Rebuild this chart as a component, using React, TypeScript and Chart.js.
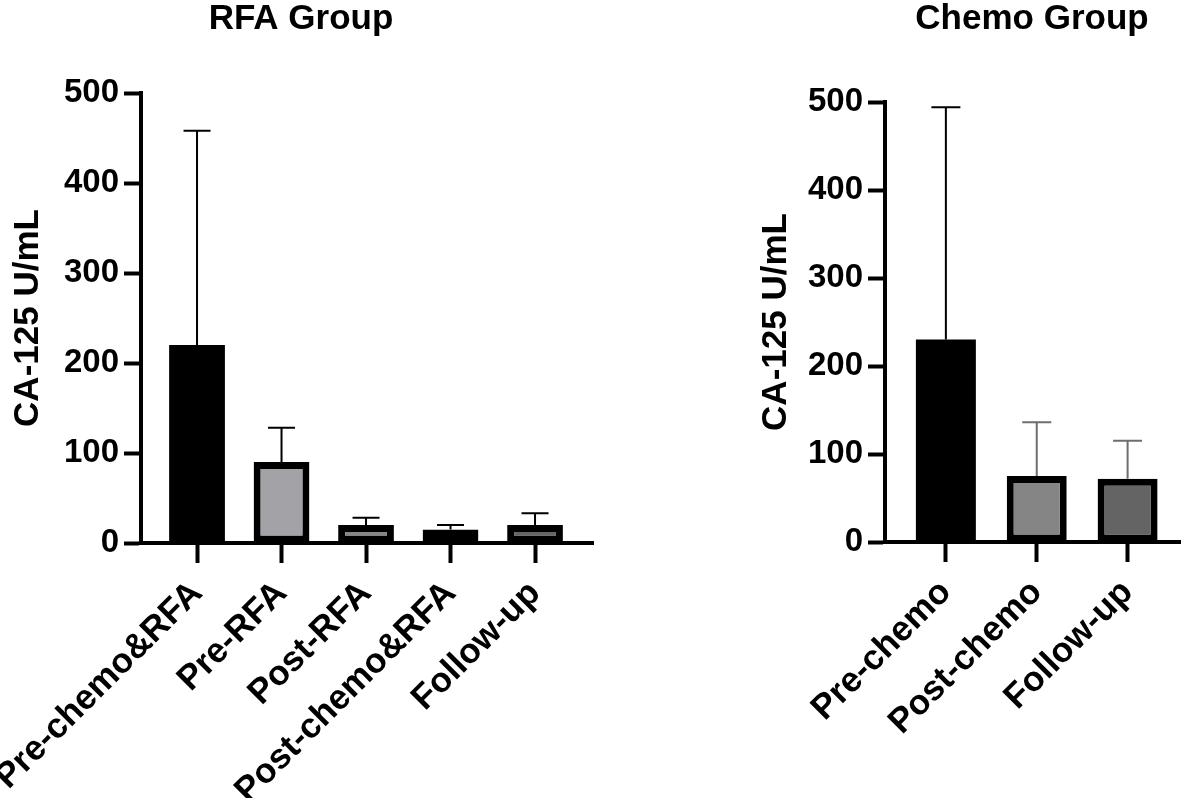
import { useEffect, useRef } from 'react';
import { Chart, registerables } from 'chart.js';

Chart.register(...registerables);

// RFA group
const rfaLabels = ['Pre-chemo&RFA', 'Pre-RFA', 'Post-RFA', 'Post-chemo&RFA', 'Follow-up'];
const rfaMeans = [220, 90, 20, 15, 20];
const rfaSD = [238, 38, 8, 5, 13];
const rfaFills = ['#000000', '#a3a3a7', '#858585', '#dedede', '#646464'];
const rfaErrColors = ['#000000', '#000000', '#000000', '#000000', '#000000'];

// Chemo group
const chemoLabels = ['Pre-chemo', 'Post-chemo', 'Follow-up'];
const chemoMeans = [230, 75, 72];
const chemoSD = [264, 61, 43];
const chemoFills = ['#000000', '#858585', '#646464'];
const chemoErrColors = ['#000000', '#6e6e6e', '#6e6e6e'];

const yMax = 500;
const yStep = 100;

const FONT = '"Liberation Sans", Arial, Helvetica, sans-serif';

function makeErrorBars(sd: number[], colors: string[], cap: number) {
  return {
    id: 'errorBars',
    afterDatasetsDraw(chart: any) {
      const { ctx } = chart;
      const y = chart.scales.y;
      const meta = chart.getDatasetMeta(0);
      const data = chart.data.datasets[0].data as any[];
      meta.data.forEach((bar: any, i: number) => {
        const top = y.getPixelForValue(data[i].y + sd[i]);
        ctx.save();
        ctx.strokeStyle = colors[i];
        ctx.lineWidth = 2;
        ctx.beginPath();
        ctx.moveTo(bar.x, bar.y);
        ctx.lineTo(bar.x, top);
        ctx.moveTo(bar.x - cap, top);
        ctx.lineTo(bar.x + cap, top);
        ctx.stroke();
        ctx.restore();
      });
    },
  };
}

type PanelProps = {
  title: string;
  labels: string[];
  means: number[];
  sd: number[];
  fills: string[];
  errColors: string[];
  width: number;
  height: number;
  padSide: number;
  yWidth: number;
  yTitlePad: number;
  xHeight: number;
  plotTop: number;
  xMin: number;
  xMax: number;
  border: number;
  cap: number;
};

function BarPanel(p: PanelProps) {
  const ref = useRef<HTMLCanvasElement>(null);

  useEffect(() => {
    const ctx = ref.current!.getContext('2d')!;
    const titleLine = 32;
    const titleTop = 3;
    const chart = new Chart(ctx, {
      type: 'bar',
      data: {
        datasets: [
          {
            data: p.means.map((v, i) => ({ x: i, y: v })),
            backgroundColor: p.fills,
            borderColor: '#000000',
            // a black bar needs no outline (avoids an anti-aliased seam)
            borderWidth: p.fills.map((c) => (c === '#000000' ? 0 : p.border)),
            borderSkipped: false,
            barPercentage: 0.66,
            categoryPercentage: 1,
          },
        ],
      },
      options: {
        responsive: false,
        animation: false,
        layout: { padding: { left: p.padSide, right: p.padSide, top: 0, bottom: 0 } },
        plugins: {
          legend: { display: false },
          tooltip: { enabled: false },
          title: {
            display: true,
            text: p.title,
            color: '#000',
            font: { family: FONT, size: 35, weight: 'bold', lineHeight: titleLine / 35 },
            padding: { top: titleTop, bottom: p.plotTop - titleLine - titleTop },
          },
        },
        scales: {
          x: {
            type: 'linear',
            offset: false,
            min: p.xMin,
            max: p.xMax,
            afterBuildTicks: (axis: any) => {
              axis.ticks = p.labels.map((_, i) => ({ value: i }));
            },
            afterFit: (axis: any) => {
              axis.height = p.xHeight;
              axis.paddingLeft = 0;
              axis.paddingRight = 0;
            },
            grid: {
              offset: false,
              drawOnChartArea: false,
              drawTicks: true,
              tickLength: 20,
              tickWidth: 4,
              tickColor: '#000',
            },
            border: { display: true, width: 4, color: '#000' },
            ticks: {
              autoSkip: false,
              minRotation: 45,
              maxRotation: 45,
              padding: 10,
              color: '#000',
              font: { family: FONT, size: 35, weight: 'bold' },
              callback: (v: any) => p.labels[Number(v)] ?? '',
            },
          },
          y: {
            min: 0,
            max: yMax,
            afterFit: (axis: any) => {
              axis.width = p.yWidth;
              axis.paddingTop = 0;
              axis.paddingBottom = 0;
            },
            grid: {
              drawOnChartArea: false,
              drawTicks: true,
              tickLength: 17,
              tickWidth: 4,
              tickColor: '#000',
            },
            border: { display: true, width: 4, color: '#000' },
            ticks: {
              stepSize: yStep,
              padding: 5,
              color: '#000',
              font: { family: FONT, size: 33, weight: 'bold' },
            },
            title: {
              display: true,
              text: 'CA-125 U/mL',
              color: '#000',
              font: { family: FONT, size: 35, weight: 'bold', lineHeight: 1 },
              padding: { top: p.yTitlePad, bottom: 0 },
            },
          },
        },
      },
      plugins: [makeErrorBars(p.sd, p.errColors, p.cap)],
    });
    return () => chart.destroy();
  }, []);

  return (
    <canvas
      ref={ref}
      width={p.width}
      height={p.height}
      style={{ width: p.width, height: p.height, display: 'block' }}
    />
  );
}

export default function App() {
  return (
    <div
      style={{
        position: 'fixed',
        left: 0,
        top: 0,
        width: 1181,
        height: 798,
        overflow: 'hidden',
        background: '#fff',
      }}
    >
      <div style={{ position: 'absolute', left: 0, top: 0 }}>
        <BarPanel
          title="RFA Group"
          labels={rfaLabels}
          means={rfaMeans}
          sd={rfaSD}
          fills={rfaFills}
          errColors={rfaErrColors}
          width={602}
          height={798}
          padSide={9}
          yWidth={132}
          yTitlePad={2}
          xHeight={255}
          plotTop={93}
          xMin={-0.663}
          xMax={4.686}
          border={7}
          cap={13.5}
        />
      </div>
      <div style={{ position: 'absolute', left: 740, top: 0 }}>
        <BarPanel
          title="Chemo Group"
          labels={chemoLabels}
          means={chemoMeans}
          sd={chemoSD}
          fills={chemoFills}
          errColors={chemoErrColors}
          width={584}
          height={798}
          padSide={16.5}
          yWidth={128.5}
          yTitlePad={2}
          xHeight={256}
          plotTop={102}
          xMin={-0.67}
          xMax={3.98}
          border={7}
          cap={14.5}
        />
      </div>
    </div>
  );
}
